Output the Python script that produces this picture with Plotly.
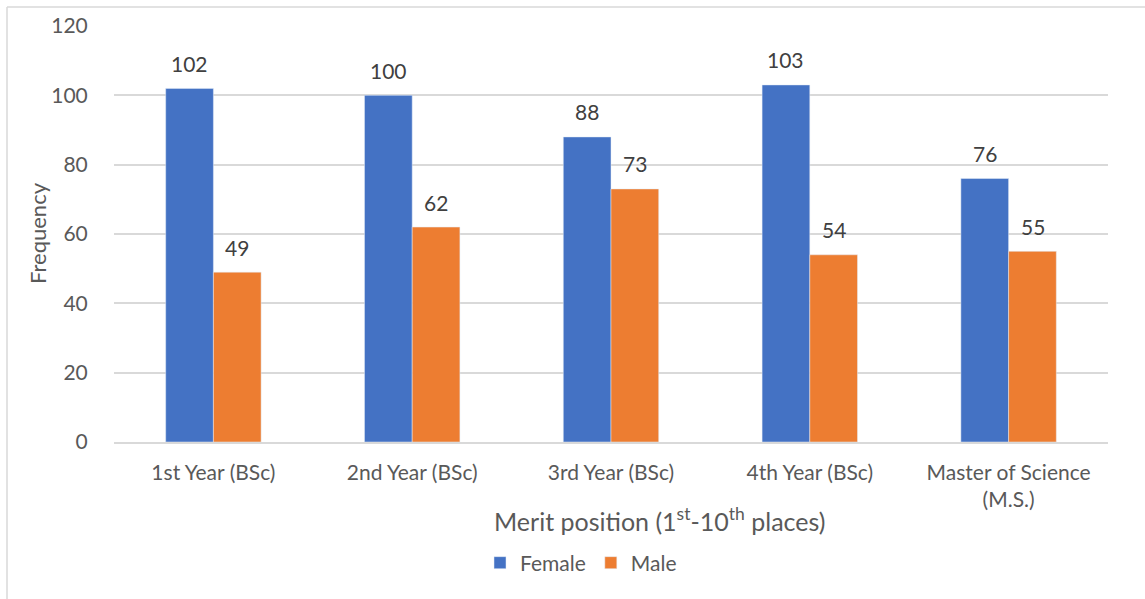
import plotly.graph_objects as go

categories = ["1st Year (BSc)", "2nd Year (BSc)", "3rd Year (BSc)", "4th Year (BSc)",
              "Master of Science<br>(M.S.)"]
female = [102, 100, 88, 103, 76]
male = [49, 62, 73, 54, 55]

FONT = "Lato, Calibri, sans-serif"
TEXT = "#595959"
LABEL = "#404040"
GRID = "#D9D9D9"

W, H = 1145, 599
L, R, T, B = 114, 37, 26, 157
pw, ph = W - L - R, H - T - B


def px_x(p):
    return (p - L) / pw


def px_y(p):
    return (H - B - p) / ph


fig = go.Figure()
fig.add_trace(go.Bar(name="Female", x=categories, y=female, marker_color="#4472C4"))
fig.add_trace(go.Bar(name="Male", x=categories, y=male, marker_color="#ED7D31"))

# value labels sit a fixed distance above each bar
bar_half = 24
annotations = []
for values, shift in ((female, -bar_half), (male, bar_half)):
    for cat, v in zip(categories, values):
        annotations.append(dict(
            x=cat, y=v, xref="x", yref="y", text=str(v), showarrow=False,
            xshift=shift, yshift=25, xanchor="center", yanchor="middle",
            font=dict(size=21, color=LABEL, family=FONT)))

annotations += [
    dict(text="Merit position (1<sup>st</sup>-10<sup>th</sup> places)", xref="paper", yref="paper",
         x=px_x(659), y=px_y(519), xanchor="center", yanchor="middle", showarrow=False,
         font=dict(size=25, color=TEXT)),
    dict(text="Frequency", xref="paper", yref="paper", x=px_x(37), y=px_y(233),
         xanchor="center", yanchor="middle", textangle=-90, showarrow=False,
         font=dict(size=22, color=TEXT)),
]

fig.update_layout(
    width=W, height=H,
    margin=dict(l=L, r=R, t=T, b=B),
    paper_bgcolor="white", plot_bgcolor="white",
    barmode="group", bargap=0.52, bargroupgap=0,
    font=dict(family=FONT, color=TEXT, size=21),
    showlegend=True,
    legend=dict(orientation="h", x=px_x(480), xanchor="left", y=px_y(563), yanchor="middle",
                font=dict(size=21, color=TEXT), traceorder="normal"),
    xaxis=dict(showgrid=False, showline=True, linecolor=GRID, linewidth=1.5,
               tickfont=dict(size=21, color=TEXT), ticks="outside", ticklen=11,
               tickcolor="rgba(0,0,0,0)"),
    yaxis=dict(range=[0, 120], dtick=20, showgrid=True, gridcolor=GRID, gridwidth=1.5,
               zeroline=False, showline=False, tickfont=dict(size=21, color=TEXT),
               ticks="outside", ticklen=21, tickcolor="rgba(0,0,0,0)"),
    annotations=annotations,
    shapes=[
        dict(type="line", xref="paper", yref="paper", x0=px_x(7), x1=px_x(7),
             y0=px_y(7), y1=px_y(H + 5), line=dict(color=GRID, width=1.5)),
        dict(type="line", xref="paper", yref="paper", x0=px_x(7), x1=px_x(W + 5),
             y0=px_y(7), y1=px_y(7), line=dict(color=GRID, width=1.5)),
    ],
)

fig.write_html("out.html")
